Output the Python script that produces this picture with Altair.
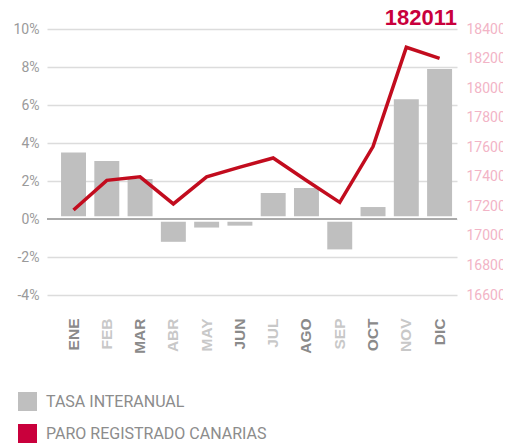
import altair as alt
import pandas as pd

months = ["ENE", "FEB", "MAR", "ABR", "MAY", "JUN", "JUL", "AGO", "SEP", "OCT", "NOV", "DIC"]
tasa = [3.5, 3.05, 2.1, -1.2, -0.45, -0.35, 1.37, 1.63, -1.6, 0.63, 6.3, 7.9]
paro = [171750, 173760, 174000, 172160, 174000, 174650, 175270, 173750, 172270, 176040, 182760, 182011]
light_months = ["FEB", "ABR", "MAY", "JUL", "SEP", "NOV"]
left_ticks = [-4, -2, 0, 2, 4, 6, 8, 10]
right_ticks = [166000, 168000, 170000, 172000, 174000, 176000, 178000, 180000, 182000, 184000]
series = ["TASA INTERANUAL", "PARO REGISTRADO CANARIAS"]
last_value = "182011"

df = pd.DataFrame({"mes": months, "tasa": tasa, "paro": paro, "serie": series[0]})

GRAY_BAR = "#bfbfbf"
RED_LINE = "#c20c1e"
CRIMSON = "#c9003c"

x_enc = alt.X(
    "mes:N",
    sort=months,
    title=None,
    scale=alt.Scale(paddingInner=0.25, paddingOuter=0.285, align=0.74),
    axis=alt.Axis(
        labelAngle=-90,
        labelFont="Liberation Sans",
        labelFontWeight="bold",
        labelFontSize=15.5,
        labelColor={
            "expr": "indexof(" + str(light_months) + ", datum.value) >= 0 ? '#c8c8c8' : '#8a8a8a'"
        },
        labelPadding=23,
        ticks=False,
        tickSize=0,
        domain=False,
        grid=False,
    ),
)

yscale = alt.Scale(domain=[-4, 10], nice=False, zero=False)

bars = alt.Chart(df).mark_bar().encode(
    x=x_enc,
    y=alt.Y(
        "tasa:Q",
        scale=yscale,
        title=None,
        axis=alt.Axis(
            values=left_ticks,
            labelExpr="datum.value + '%'",
            labelFont="Roboto",
            labelFontSize=14,
            labelColor="#9a9a9a",
            labelPadding=8,
            ticks=False,
            domain=False,
            grid=True,
            gridColor="#dcdcdc",
            gridWidth=1.3,
        ),
    ),
    color=alt.Color(
        "serie:N",
        scale=alt.Scale(domain=series, range=[GRAY_BAR, CRIMSON]),
        legend=alt.Legend(
            title=None,
            orient="none",
            legendX=-29,
            legendY=363,
            padding=0,
            symbolType="square",
            symbolSize=361,
            symbolStrokeWidth=0,
            symbolOpacity=1,
            labelFont="Roboto",
            labelFontSize=16,
            labelColor="#8c8c8c",
            labelOffset=9,
            labelLimit=400,
            rowPadding=13,
        ),
    ),
)

zero_df = pd.DataFrame({"v": [0]})
gap = alt.Chart(zero_df).mark_rule(color="white", strokeWidth=5.6).encode(
    y=alt.Y("v:Q", scale=yscale, axis=None)
)
zero = alt.Chart(zero_df).mark_rule(color="#aaaaaa", strokeWidth=2).encode(
    y=alt.Y("v:Q", scale=yscale, axis=None)
)

line = alt.Chart(df).mark_line(color=RED_LINE, strokeWidth=3.5, strokeJoin="miter").encode(
    x=alt.X("mes:N", sort=months),
    y=alt.Y(
        "paro:Q",
        scale=alt.Scale(domain=[166000, 184000], nice=False, zero=False),
        title=None,
        axis=alt.Axis(
            orient="right",
            values=right_ticks,
            format="d",
            labelFont="Roboto",
            labelFontSize=14,
            labelColor="#f2b4c6",
            labelPadding=9,
            ticks=False,
            domain=False,
            grid=False,
        ),
    ),
)

chart = (
    alt.layer(bars, gap, zero, line)
    .resolve_scale(y="independent")
    .properties(
        width=410,
        height=266,
        autosize=alt.AutoSizeParams(type="none"),
        padding={"left": 39, "top": 21, "right": 46, "bottom": 149},
        title=alt.TitleParams(
            text=last_value,
            anchor="end",
            frame="group",
            font="Liberation Sans",
            fontSize=22,
            fontWeight="bold",
            color=CRIMSON,
            offset=-7.5,
        ),
    )
    .configure_view(stroke=None)
)

chart.save("out.html", embed_options={"renderer": "svg", "actions": False})
